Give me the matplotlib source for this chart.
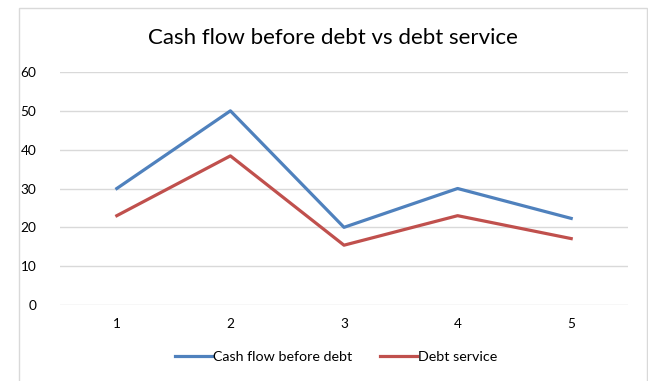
import matplotlib.pyplot as plt
from matplotlib.patches import Rectangle

years = [1, 2, 3, 4, 5]
cash_flow = [30, 50, 20, 30, 22.3]
debt_service = [23, 38.4, 15.4, 23, 17.1]
y_ticks = [0, 10, 20, 30, 40, 50, 60]

plt.rcParams['font.family'] = ['Lato', 'DejaVu Sans']

fig = plt.figure(figsize=(6.48, 3.81), dpi=100)
# chart area border (Excel style)
fig.patches.append(Rectangle((18.5 / 648, -0.1), (647 - 18.5) / 648, 1.1 - 8 / 381,
                             transform=fig.transFigure, fill=False,
                             edgecolor='#d9d9d9', linewidth=1))

ax = fig.add_axes([60 / 648, 1 - 305 / 381, 568 / 648, 233 / 381])
ax.plot(years, cash_flow, color='#4F81BD', linewidth=2.3, label='Cash flow before debt')
ax.plot(years, debt_service, color='#C0504D', linewidth=2.3, label='Debt service')

ax.set_xlim(0.5, 5.5)
ax.set_ylim(0, 60)
ax.set_yticks(y_ticks)
ax.set_xticks(years)
ax.grid(axis='y', color='#d9d9d9', linewidth=1)
ax.set_axisbelow(True)
for s in ax.spines.values():
    s.set_visible(False)
ax.tick_params(length=0, labelsize=9.8, colors='#000000')
ax.tick_params(axis='y', pad=17)
ax.tick_params(axis='x', pad=9)

fig.text(333 / 648, 1 - 38 / 381, 'Cash flow before debt vs debt service',
         ha='center', va='center', fontsize=16)

fig.legend(loc='center', bbox_to_anchor=(336 / 648, 1 - 357 / 381), ncol=2,
           frameon=False, fontsize=10.3, handlelength=2.6, handletextpad=0.1,
           columnspacing=1.9)

fig.savefig('out.png', dpi=100)
